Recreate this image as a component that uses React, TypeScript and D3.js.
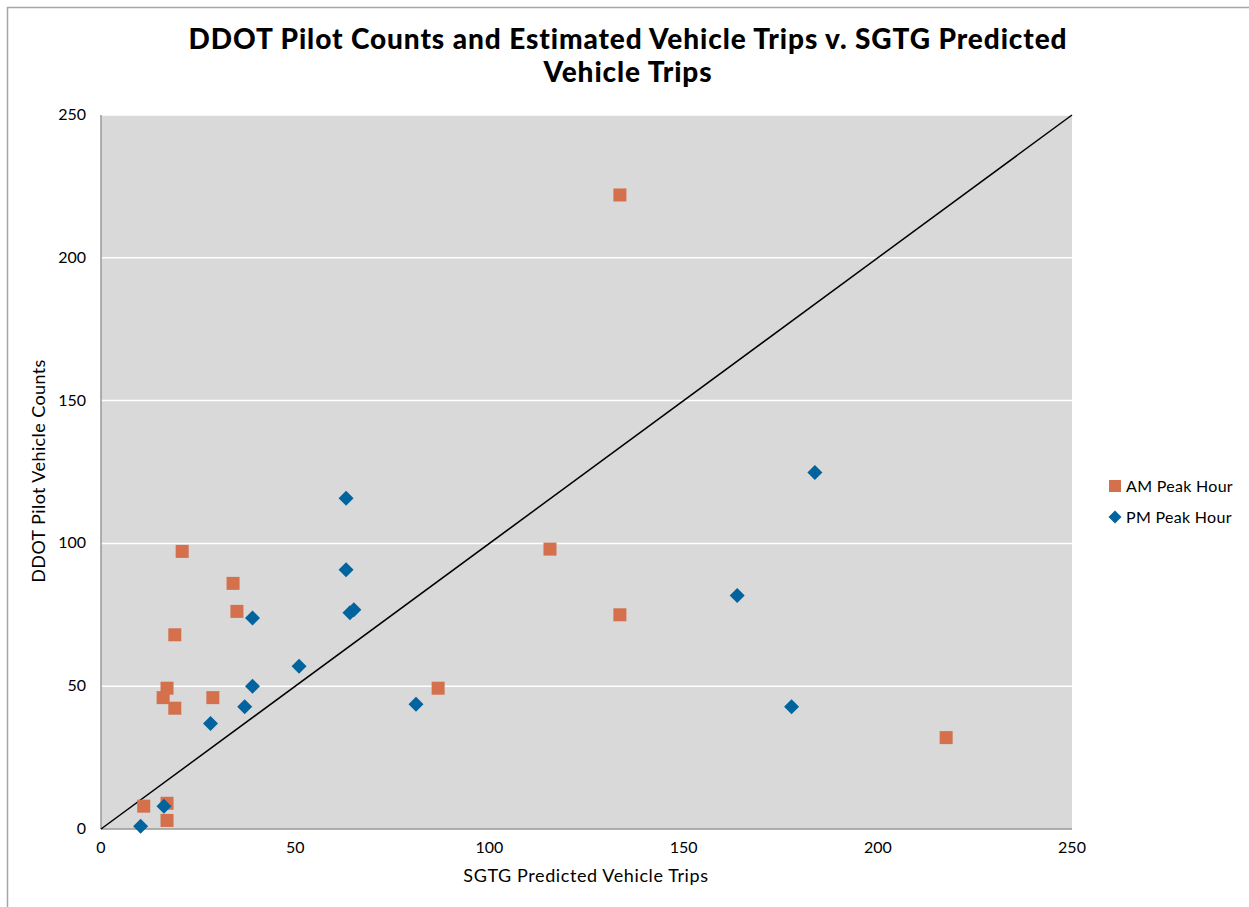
import React from "react";
import * as d3 from "d3";

const amX = [133.6, 20.9, 34, 35, 19, 17, 16, 28.8, 19, 11, 17, 17, 115.6, 133.6, 86.8, 217.6];
const amY = [222, 97.2, 86, 76.2, 68, 49.3, 46, 46, 42.3, 8, 9, 3, 98, 75, 49.3, 32];
const pmX = [63.1, 64.1, 65.1, 39, 51, 39, 37, 28.2, 16.2, 10.2, 63.1, 81.1, 163.8, 177.8, 183.8];
const pmY = [90.8, 75.7, 76.8, 73.9, 57, 50, 42.8, 36.9, 8, 1, 115.8, 43.7, 81.8, 42.8, 124.8];
const ticks = [0, 50, 100, 150, 200, 250];
const legendLabels = ["AM Peak Hour", "PM Peak Hour"];
const titleLines = ["DDOT Pilot Counts and Estimated Vehicle Trips v. SGTG Predicted", "Vehicle Trips"];

const AM_COLOR = "#D4704C";
const PM_COLOR = "#01649E";
const FONT = "Lato, 'Open Sans', sans-serif";

function diamondPath(r: number) {
  const p = d3.path();
  p.moveTo(0, -r);
  p.lineTo(r, 0);
  p.lineTo(0, r);
  p.lineTo(-r, 0);
  p.closePath();
  return p.toString();
}

export default function App() {
  const W = 1249, H = 907;
  const left = 101, right = 1072, top = 115, bottom = 829;
  const x = d3.scaleLinear().domain([0, 250]).range([left, right]);
  const y = d3.scaleLinear().domain([0, 250]).range([bottom, top]);
  const sq = 13;
  const dia = diamondPath(7.5);
  const diaL = diamondPath(6.5);

  return (
    <svg width={W} height={H} style={{ position: "absolute", left: 0, top: 0, background: "#fff" }}>
      <rect x={7.5} y={7.5} width={W + 10} height={H + 10} fill="#fff" stroke="#a6a6a6" strokeWidth={1.5} />
      {titleLines.map((t, i) => (
        <text key={i} x={628} y={49 + i * 33} textAnchor="middle" fontFamily={FONT} fontWeight={900} fontSize={28} letterSpacing={0.9} fill="#000">
          {t}
        </text>
      ))}
      <rect x={left} y={top} width={right - left} height={bottom - top} fill="#d9d9d9" />
      {ticks.filter((t) => t > 0).map((t) => (
        <line key={t} x1={left} x2={right} y1={y(t)} y2={y(t)} stroke="#fff" strokeWidth={1.5} />
      ))}
      <line x1={left} x2={left} y1={top} y2={bottom} stroke="#999" strokeWidth={1.5} />
      <line x1={left} x2={right} y1={bottom} y2={bottom} stroke="#999" strokeWidth={1.5} />
      {ticks.map((t) => (
        <text key={"y" + t} x={86} y={y(t) + 5} textAnchor="end" fontFamily={FONT} fontSize={16} fill="#000">
          {t}
        </text>
      ))}
      {ticks.map((t) => (
        <text key={"x" + t} x={x(t)} y={853} textAnchor="middle" fontFamily={FONT} fontSize={16} fill="#000">
          {t}
        </text>
      ))}
      <text x={586} y={882} textAnchor="middle" fontFamily={FONT} fontSize={18} letterSpacing={0.6} fill="#000">
        SGTG Predicted Vehicle Trips
      </text>
      <text transform={`translate(45,471) rotate(-90)`} textAnchor="middle" fontFamily={FONT} fontSize={18} letterSpacing={0.4} fill="#000">
        DDOT Pilot Vehicle Counts
      </text>
      <line x1={x(0)} y1={y(0)} x2={x(250)} y2={y(250)} stroke="#000" strokeWidth={1.5} />
      {amX.map((v, i) => (
        <rect key={"a" + i} x={x(v) - sq / 2} y={y(amY[i]) - sq / 2} width={sq} height={sq} fill={AM_COLOR} />
      ))}
      {pmX.map((v, i) => (
        <path key={"p" + i} d={dia} transform={`translate(${x(v)},${y(pmY[i])})`} fill={PM_COLOR} />
      ))}
      <rect x={1109} y={480} width={12} height={12} fill={AM_COLOR} />
      <text x={1126} y={492} fontFamily={FONT} fontSize={16} letterSpacing={0.3} fill="#000">{legendLabels[0]}</text>
      <path d={diaL} transform="translate(1115,517)" fill={PM_COLOR} />
      <text x={1126} y={523} fontFamily={FONT} fontSize={16} letterSpacing={0.3} fill="#000">{legendLabels[1]}</text>
    </svg>
  );
}
